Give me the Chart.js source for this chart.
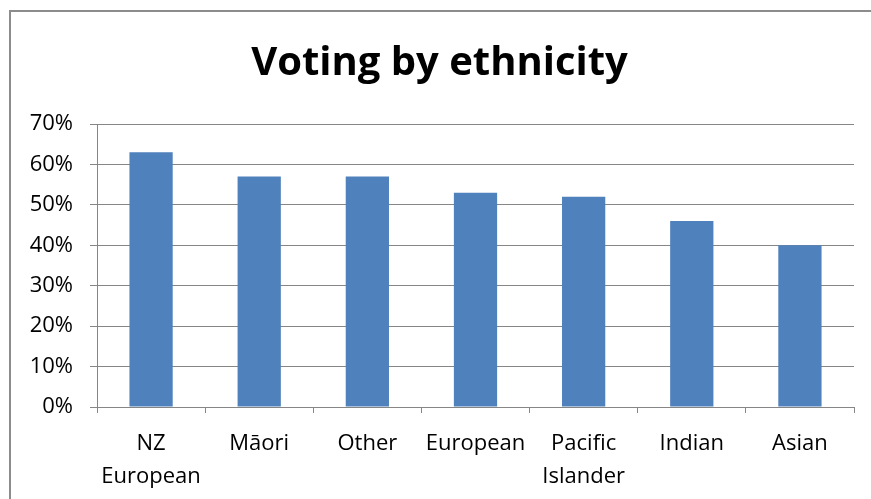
<!DOCTYPE html>
<html>
<head>
<meta charset="utf-8">
<script src="https://cdn.jsdelivr.net/npm/chart.js@4/dist/chart.umd.min.js"></script>
<style>
  html, body { margin:0; padding:0; background:#fff; overflow:hidden; }
  #wrap { position:relative; width:871px; height:499px; }
  #frame { position:absolute; left:9px; top:10px; width:900px; height:600px; border-left:2px solid #8c8c8c; border-top:2px solid #8c8c8c; }
  canvas { position:absolute; left:0; top:0; }
</style>
</head>
<body>
<div id="wrap">
  <div id="frame"></div>
  <canvas id="votingChart" width="871" height="499"></canvas>
</div>
<script>
// Voting by ethnicity — percentages
const groups   = [['NZ','European'], 'Māori', 'Other', 'European', ['Pacific','Islander'], 'Indian', 'Asian'];
const turnout  = [63, 57, 57, 53, 52, 46, 40];
const yTicks   = [0, 10, 20, 30, 40, 50, 60, 70];

const gridGrey = '#868686';
const font = 'Open Sans, Liberation Sans, sans-serif';

const ctx = document.getElementById('votingChart');
new Chart(ctx, {
  type: 'bar',
  data: {
    labels: groups,
    datasets: [{ data: turnout, backgroundColor: '#4F81BD', borderWidth: 0, barPercentage: 0.4, categoryPercentage: 1 }]
  },
  options: {
    responsive: false,
    animation: false,
    // left padding pushes the title towards the frame centre; y labels must still fit in the scale box
    layout: { padding: { left: 25, right: 17, top: 0, bottom: 0 } },
    plugins: {
      legend: { display: false },
      tooltip: { enabled: false },
      title: {
        display: true, text: 'Voting by ethnicity', color: '#000',
        font: { family: font, size: 40, weight: 'bold', lineHeight: 1.2 },
        padding: { top: 40, bottom: 36 }
      }
    },
    scales: {
      y: {
        min: 0, max: 70,
        afterBuildTicks: s => { s.ticks = yTicks.map(v => ({ value: v })); },
        afterFit: s => { s.width = 72; },
        ticks: { color: '#000', padding: 17, font: { family: font, size: 22 }, callback: v => v + '%' },
        grid: { color: gridGrey, lineWidth: 1, tickLength: 7, drawTicks: true },
        border: { color: gridGrey, width: 1 }
      },
      x: {
        afterFit: s => { s.height = 92; },
        ticks: { color: '#000', padding: 14, maxRotation: 0, autoSkip: false, font: { family: font, size: 22, lineHeight: 1.5 } },
        grid: { offset: true, drawOnChartArea: false, drawTicks: true, tickLength: 6, color: gridGrey },
        border: { color: gridGrey, width: 1 }
      }
    }
  }
});
</script>
</body>
</html>
